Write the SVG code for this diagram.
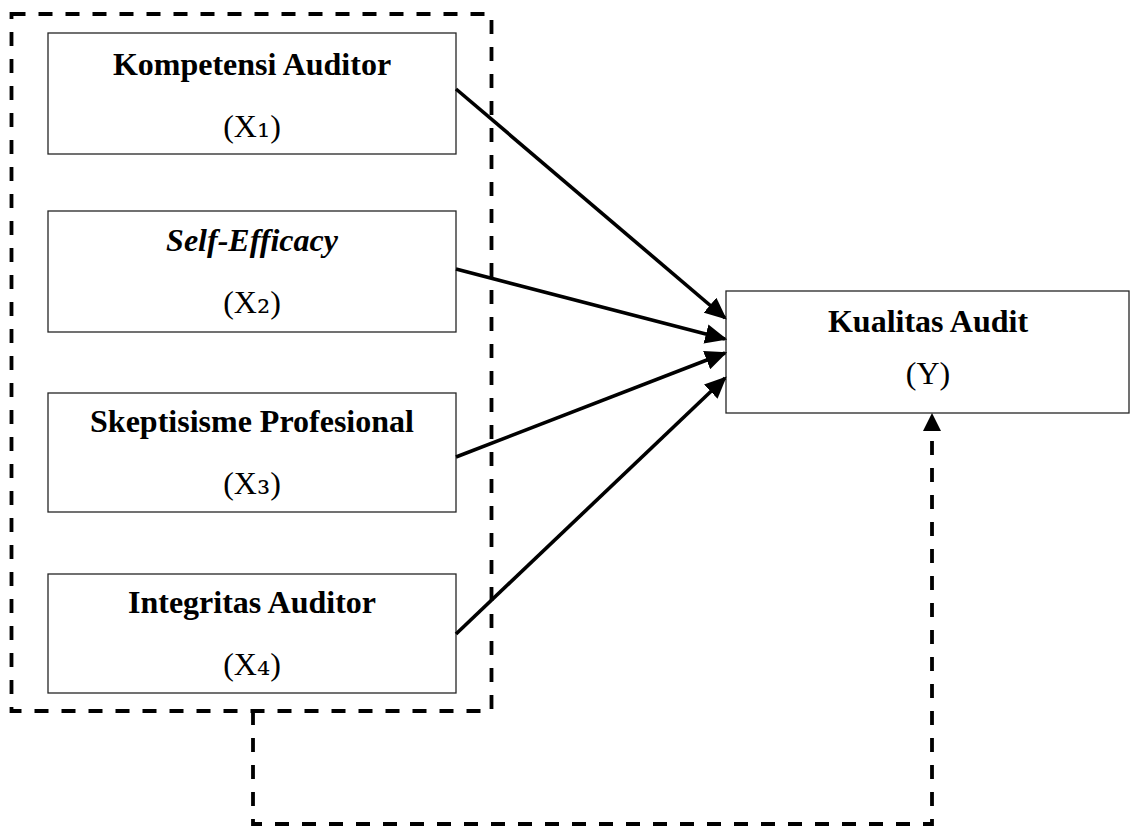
<svg xmlns="http://www.w3.org/2000/svg" width="1133" height="827" viewBox="0 0 1133 827">
<style>
.box{fill:#fff;stroke:#262626;stroke-width:1.3}
.t{font-family:"Liberation Serif","Times New Roman",serif;font-size:32px;fill:#000;text-anchor:middle}
.b{font-weight:bold}
.i{font-style:italic}
.sub{font-family:"DejaVu Serif",serif;font-size:33px}
.arr{fill:none;stroke:#000;stroke-width:3.6;marker-end:url(#ah)}
.dash{fill:none;stroke:#000;stroke-width:3.8;stroke-dasharray:14 13}
</style>
<defs>
<marker id="ah" markerUnits="userSpaceOnUse" markerWidth="22" markerHeight="20" viewBox="0 0 19 17" refX="17" refY="8.5" orient="auto">
<path d="M0,0 L19,8.5 L0,17 z" fill="#000"/>
</marker>
</defs>
<rect id="group-box" class="dash" x="11.5" y="14" width="480" height="697"/>
<g id="x1">
<rect class="box" x="48" y="33" width="408" height="121"/>
<text class="t b" x="252" y="75">Kompetensi Auditor</text>
<text class="t" x="252" y="137">(X<tspan class="sub">₁</tspan>)</text>
</g>
<g id="x2">
<rect class="box" x="48" y="211" width="408" height="121"/>
<text class="t b i" x="252" y="251">Self-Efficacy</text>
<text class="t" x="252" y="313">(X<tspan class="sub">₂</tspan>)</text>
</g>
<g id="x3">
<rect class="box" x="48" y="393" width="408" height="119"/>
<text class="t b" x="252" y="432">Skeptisisme Profesional</text>
<text class="t" x="252" y="494">(X<tspan class="sub">₃</tspan>)</text>
</g>
<g id="x4">
<rect class="box" x="48" y="574" width="408" height="119"/>
<text class="t b" x="252" y="613">Integritas Auditor</text>
<text class="t" x="252" y="675">(X<tspan class="sub">₄</tspan>)</text>
</g>
<g id="y">
<rect class="box" x="726" y="291" width="403" height="122"/>
<text class="t b" x="928" y="332">Kualitas Audit</text>
<text class="t" x="928" y="384">(Y)</text>
</g>
<g id="connectors">
<line class="arr" x1="456" y1="89" x2="725" y2="318"/>
<line class="arr" x1="456" y1="269" x2="725" y2="339"/>
<line class="arr" x1="456" y1="457" x2="725" y2="353"/>
<line class="arr" x1="456" y1="634" x2="725" y2="378"/>
<path class="dash" d="M253,711 V824 H932 V432"/>
<path d="M923,431 L932,413 L941,431 z" fill="#000"/>
</g>
</svg>
